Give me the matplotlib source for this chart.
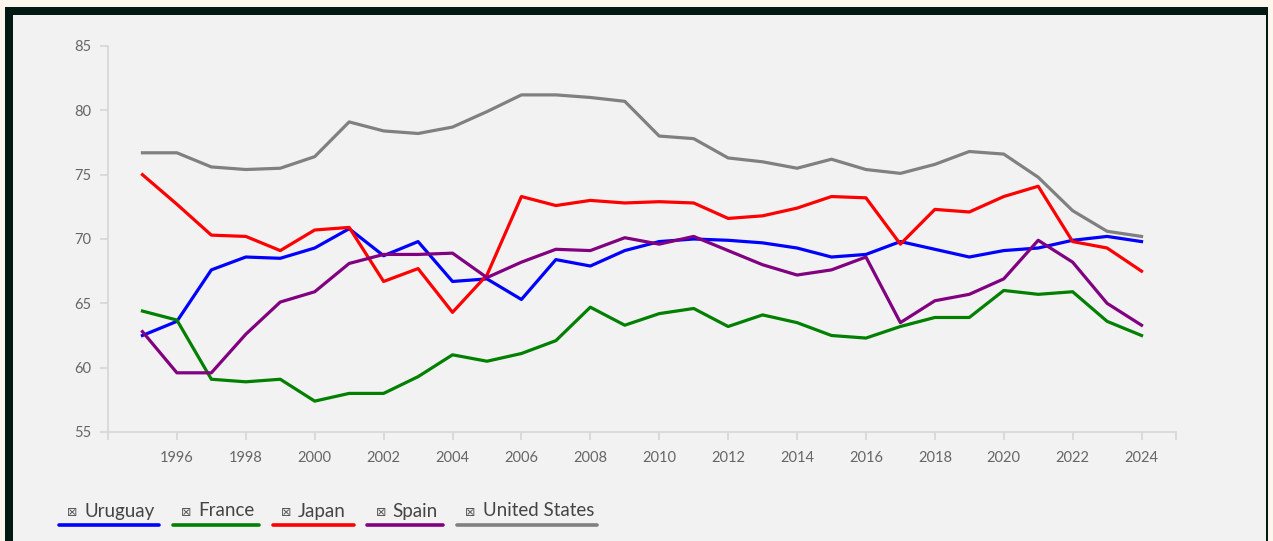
import matplotlib
matplotlib.use("Agg")
import matplotlib.pyplot as plt
from matplotlib.patches import Rectangle
from matplotlib.lines import Line2D

years = list(range(1995, 2025))
uruguay = [62.5, 63.6, 67.6, 68.6, 68.5, 69.3, 70.8, 68.7, 69.8, 66.7, 66.9, 65.3, 68.4, 67.9, 69.1,
           69.8, 70.0, 69.9, 69.7, 69.3, 68.6, 68.8, 69.8, 69.2, 68.6, 69.1, 69.3, 69.9, 70.2, 69.8]
france = [64.4, 63.7, 59.1, 58.9, 59.1, 57.4, 58.0, 58.0, 59.3, 61.0, 60.5, 61.1, 62.1, 64.7, 63.3,
          64.2, 64.6, 63.2, 64.1, 63.5, 62.5, 62.3, 63.2, 63.9, 63.9, 66.0, 65.7, 65.9, 63.6, 62.5]
japan = [75.0, 72.7, 70.3, 70.2, 69.1, 70.7, 70.9, 66.7, 67.7, 64.3, 67.2, 73.3, 72.6, 73.0, 72.8,
         72.9, 72.8, 71.6, 71.8, 72.4, 73.3, 73.2, 69.6, 72.3, 72.1, 73.3, 74.1, 69.8, 69.3, 67.5]
spain = [62.8, 59.6, 59.6, 62.6, 65.1, 65.9, 68.1, 68.8, 68.8, 68.9, 67.0, 68.2, 69.2, 69.1, 70.1,
         69.6, 70.2, 69.1, 68.0, 67.2, 67.6, 68.6, 63.5, 65.2, 65.7, 66.9, 69.9, 68.2, 65.0, 63.3]
united_states = [76.7, 76.7, 75.6, 75.4, 75.5, 76.4, 79.1, 78.4, 78.2, 78.7, 79.9, 81.2, 81.2, 81.0, 80.7,
                 78.0, 77.8, 76.3, 76.0, 75.5, 76.2, 75.4, 75.1, 75.8, 76.8, 76.6, 74.8, 72.2, 70.6, 70.2]

series_names = ["Uruguay", "France", "Japan", "Spain", "United States"]
series_values = [uruguay, france, japan, spain, united_states]
colors = ["#0000ff", "#008000", "#ff0000", "#800080", "#808080"]

x_ticks = list(range(1994, 2026, 2)) + [2025]
x_labels = ["" if (t == 1994 or t == 2025) else str(t) for t in x_ticks]
y_ticks = [55, 60, 65, 70, 75, 80, 85]

W, H = 1273, 541
fig = plt.figure(figsize=(W / 100, H / 100), dpi=100)
fig.patch.set_facecolor("#fdf6ec")
# dark frame and light panel
fig.patches.append(Rectangle((5 / W, 0), (1268 - 5) / W, 1 - 7 / H, transform=fig.transFigure,
                             facecolor="#031a12", edgecolor="none", zorder=-2))
fig.patches.append(Rectangle((13 / W, 0), (1266 - 13) / W, 1 - 15 / H, transform=fig.transFigure,
                             facecolor="#f2f2f2", edgecolor="none", zorder=-1))

ax = fig.add_axes([108 / W, 1 - 432 / H, (1176 - 108) / W, (432 - 46) / H])
ax.set_zorder(2)
ax.set_facecolor("none")
for name, vals, c in zip(series_names, series_values, colors):
    ax.plot(years, vals, color=c, linewidth=2.3, solid_joinstyle="round", label=name)

ax.set_xlim(1994, 2025)
ax.set_ylim(55, 85)
ax.set_xticks(x_ticks)
ax.set_xticklabels(x_labels)
ax.set_yticks(y_ticks)
for s in ["top", "right"]:
    ax.spines[s].set_visible(False)
for s in ["left", "bottom"]:
    ax.spines[s].set_color("#d6d6d6")
    ax.spines[s].set_linewidth(1.2)
ax.tick_params(axis="both", colors="#d6d6d6", length=6, width=1.2, labelcolor="#666666",
               labelsize=10.5)
ax.tick_params(axis="x", pad=8)
ax.tick_params(axis="y", pad=6)
for lab in ax.get_xticklabels() + ax.get_yticklabels():
    lab.set_fontfamily(["Lato", "DejaVu Sans"])

# legend drawn as boxed-x symbol, name and colored underline
leg_items = [(59, 159, 67, 84), (173, 259, 181, 198), (273, 354, 281, 298),
             (367, 443, 376, 392), (457, 597, 465, 483)]
for (u0, u1, sx, tx), name, c in zip(leg_items, series_names, colors):
    fig.text(sx / W, 1 - 512 / H, "\u22a0", fontsize=9, color="#555555",
             va="center", ha="left", family=["DejaVu Sans"], zorder=3)
    fig.text(tx / W, 1 - 511 / H, name, fontsize=13.5, color="#444444",
             va="center", ha="left", family=["Lato", "DejaVu Sans"], zorder=3)
    fig.add_artist(Line2D([u0 / W, u1 / W], [1 - 525 / H, 1 - 525 / H], transform=fig.transFigure,
                          color=c, linewidth=2.6, solid_capstyle="round", zorder=3))

fig.savefig("out.png", dpi=100, facecolor=fig.get_facecolor())
